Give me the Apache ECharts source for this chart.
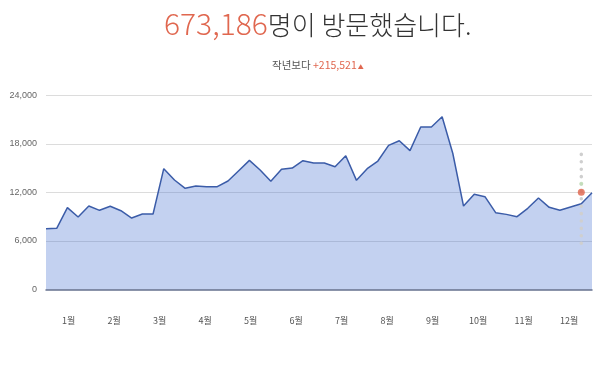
<!DOCTYPE html>
<html>
<head>
<meta charset="utf-8">
<script src="https://cdn.jsdelivr.net/npm/echarts@6/dist/echarts.min.js"></script>
<style>
html,body{margin:0;padding:0;background:#fff;}
#c{width:600px;height:365px;}
</style>
</head>
<body>
<div id="c"></div>
<script>
const months = ['1월','2월','3월','4월','5월','6월','7월','8월','9월','10월','11월','12월'];
const weeks = Array.from({length: 52}, (_, i) => 'W' + (i + 1));
const visitors = [7500,7540,10100,8940,10300,9770,10270,9720,8820,9310,9310,14920,13520,12490,12780,12700,12700,13400,14670,15950,14760,13360,14840,15000,15910,15620,15620,15170,16530,13480,14920,15870,17810,18380,17150,20080,20080,21350,16800,10300,11750,11460,9480,9270,8980,10020,11290,10140,9770,10180,10590,11950];
const yTicks = [0, 6000, 12000, 18000, 24000];
const totalText = '673,186';
const titleRest = '명이 방문했습니다.';
const subLabel = '작년보다';
const diffText = '+215,521';
const markerIndex = 50;
const markerValue = 12000;
const markerRange = [5700, 16700];
const markerGreen = 13060;

const FONT = '"Noto Sans CJK KR", "Noto Sans", sans-serif';
const chart = echarts.init(document.getElementById('c'), null, {renderer: 'canvas'});
chart.setOption({
  animation: false,
  backgroundColor: '#fff',
  title: [{
    text: '{a|' + totalText + '}{b|' + titleRest + '}',
    left: 159, top: 4,
    textStyle: {
      fontWeight: 300,
      rich: {
        a: {fontSize: 30, fontWeight: 300, color: '#e0674f', fontFamily: FONT},
        b: {fontSize: 26, fontWeight: 300, color: '#333', fontFamily: FONT, padding: [2, 0, 0, 0]}
      }
    }
  }, {
    text: '{a|' + subLabel + ' }{b|' + diffText + '}{c|▲}',
    left: 267, top: 55,
    textStyle: {
      fontWeight: 'normal',
      rich: {
        a: {fontSize: 10.5, fontWeight: 'normal', color: '#555', fontFamily: FONT},
        b: {fontSize: 10.5, fontWeight: 'normal', color: '#e0674f', fontFamily: FONT},
        c: {fontSize: 6, fontWeight: 'normal', color: '#e0674f', fontFamily: FONT, padding: [3, 0, 0, 1]}
      }
    }
  }],
  grid: {left: 46, right: 8, top: 95.3, bottom: 75.7},
  xAxis: [{
    type: 'category',
    data: months,
    boundaryGap: true,
    axisLine: {show: true, lineStyle: {color: '#65728f', width: 1.5}},
    axisTick: {show: false},
    axisLabel: {color: '#555', fontSize: 9, margin: 27, fontFamily: FONT},
    splitLine: {show: false}
  }, {
    type: 'category',
    data: weeks,
    boundaryGap: false,
    position: 'bottom',
    show: false
  }],
  yAxis: {
    type: 'value',
    min: 0, max: 24000, interval: 6000,
    axisLine: {show: false},
    axisTick: {show: false},
    axisLabel: {
      color: '#666', fontSize: 9, margin: 9, fontFamily: '"Liberation Sans", Arial, sans-serif',
      formatter: v => yTicks.includes(v) ? v.toLocaleString('en-US') : ''
    },
    splitLine: {lineStyle: {color: '#dcdcdc', width: 1}}
  },
  series: [{
    type: 'line',
    xAxisIndex: 1,
    data: visitors,
    symbol: 'none',
    lineStyle: {color: '#3b5ca8', width: 1.5},
    areaStyle: {color: '#4a72d0', opacity: 0.33},
    z: 2
  }, {
    type: 'line',
    xAxisIndex: 1,
    data: [[markerIndex, markerRange[0]], [markerIndex, markerRange[1]]],
    symbol: 'none',
    lineStyle: {color: '#cfcfcf', width: 3.5, type: [0.1, 7.3], cap: 'round'},
    z: 3,
    silent: true
  }, {
    type: 'scatter',
    xAxisIndex: 1,
    data: [[markerIndex, markerGreen]],
    symbolSize: 4,
    itemStyle: {color: '#bfe0b5'},
    z: 4
  }, {
    type: 'scatter',
    xAxisIndex: 1,
    data: [[markerIndex, markerValue]],
    symbolSize: 7,
    itemStyle: {color: '#e0634a'},
    z: 5
  }]
});
</script>
</body>
</html>
